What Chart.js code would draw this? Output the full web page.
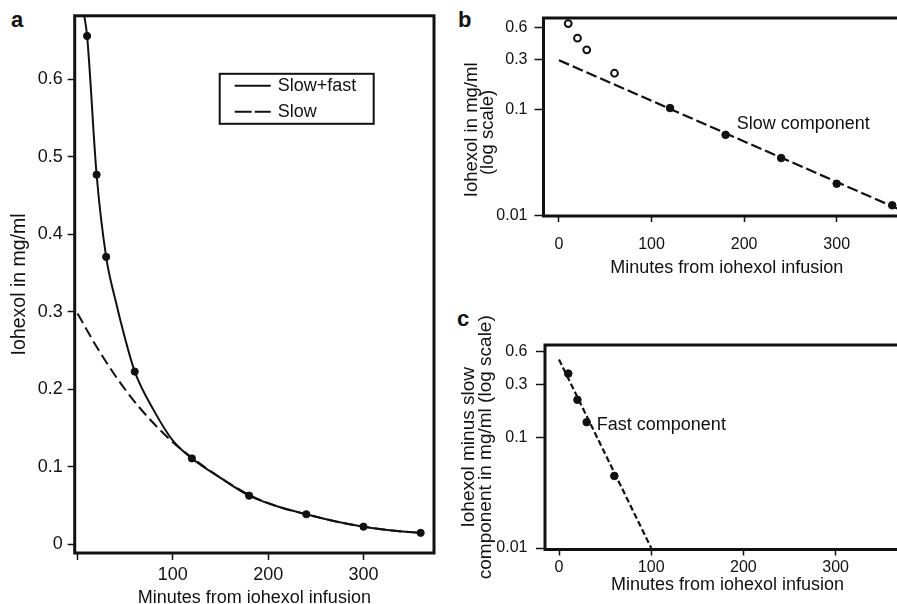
<!DOCTYPE html>
<html>
<head>
<meta charset="utf-8">
<script src="https://cdn.jsdelivr.net/npm/chart.js@4"></script>
<style>
  html, body { margin: 0; padding: 0; background: #fff; }
  body { width: 897px; height: 604px; overflow: hidden; position: relative; }
  canvas { position: absolute; }
  .tag { position: absolute; font: bold 22px "Liberation Sans", Arial, sans-serif; color: #111; line-height: 1; }
</style>
</head>
<body>
<div class="tag" style="left:11px;top:9px">a</div>
<div class="tag" style="left:458px;top:9px">b</div>
<div class="tag" style="left:457px;top:308px">c</div>
<canvas id="chartA" width="450" height="612" style="left:0;top:0"></canvas>
<canvas id="chartB" width="470" height="285" style="left:460px;top:0"></canvas>
<canvas id="chartC" width="470" height="304" style="left:460px;top:300px"></canvas>
<script>
const FONT = '"Liberation Sans", Arial, Helvetica, sans-serif';

// panel a: measured concentrations and the two fitted curves
const sampleMinutes = [10, 20, 30, 60, 120, 180, 240, 300, 360];
const iohexolA = [0.656, 0.477, 0.371, 0.223, 0.111, 0.063, 0.039, 0.023, 0.015];
const fitMinutes = [6, 10, 20, 30, 40, 50, 60, 80, 100, 120, 150, 180, 210, 240, 270, 300, 330, 360];
const slowFastFit = [0.69, 0.656, 0.477, 0.371, 0.314, 0.265, 0.223, 0.173, 0.134, 0.111, 0.086, 0.063, 0.049, 0.039, 0.030, 0.023, 0.018, 0.015];
const slowMinutes = [0, 20, 40, 60, 80, 100, 120, 150, 180, 210, 240, 270, 300, 330, 360];
const slowFit = [0.298, 0.255, 0.217, 0.184, 0.156, 0.132, 0.112, 0.086, 0.064, 0.049, 0.039, 0.030, 0.023, 0.018, 0.015];
const xTicksA = [0, 100, 200, 300];
const yTicksA = [0, 0.1, 0.2, 0.3, 0.4, 0.5, 0.6];

// panel b: log plot, early points open, late points filled
const earlyMinutes = [10, 20, 30, 60];
const earlyB = [0.655, 0.477, 0.37, 0.222];
const lateMinutes = [120, 180, 240, 300, 360];
const lateB = [0.104, 0.058, 0.035, 0.020, 0.0125];
const slowLineMinutes = [0, 366];
const slowLineB = [0.295, 0.0116];

// panel c: measured minus slow component
const fastMinutes = [10, 20, 30, 60];
const fastC = [0.38, 0.22, 0.138, 0.045];
const fastLineMinutes = [0, 100];
const fastLineC = [0.51, 0.01];

const xTicksBC = [0, 100, 200, 300];
const logTicks = [0.01, 0.1, 0.3, 0.6];

const pts = (xs, ys) => xs.map((x, i) => ({ x: x, y: ys[i] }));

Chart.defaults.font.family = FONT;
Chart.defaults.color = '#111';

// box around the plot area
const frame = {
  id: 'frame',
  beforeDatasetsDraw(chart) {
    const { ctx, chartArea: a } = chart;
    ctx.save();
    ctx.strokeStyle = '#111';
    ctx.lineWidth = 3;
    ctx.strokeRect(a.left, a.top, a.right - a.left, a.bottom - a.top);
    ctx.restore();
  }
};

// text label placed at data coordinates
const note = {
  id: 'note',
  afterDatasetsDraw(chart, args, opts) {
    if (!opts.text) return;
    const { ctx, scales } = chart;
    ctx.save();
    ctx.font = '18px ' + FONT;
    ctx.fillStyle = '#111';
    ctx.textBaseline = 'middle';
    ctx.textAlign = 'left';
    ctx.fillText(opts.text, scales.x.getPixelForValue(opts.x), scales.y.getPixelForValue(opts.y));
    ctx.restore();
  }
};

// boxed legend inside panel a
const boxLegend = {
  id: 'boxLegend',
  afterDraw(chart, args, opts) {
    if (!opts.display) return;
    const { ctx, chartArea: a } = chart;
    const left = a.left + opts.dx, top = a.top + opts.dy;
    const items = chart.data.datasets.filter(d => d.inLegend);
    ctx.save();
    ctx.strokeStyle = '#111';
    ctx.lineWidth = 2;
    ctx.strokeRect(left, top, opts.width, opts.height);
    ctx.font = '18px ' + FONT;
    ctx.fillStyle = '#111';
    ctx.textBaseline = 'middle';
    items.forEach((d, i) => {
      const yy = top + 12 + 26 * i;
      ctx.setLineDash(d.legendDash || []);
      ctx.lineWidth = 2;
      ctx.beginPath();
      ctx.moveTo(left + 15, yy);
      ctx.lineTo(left + 51, yy);
      ctx.stroke();
      ctx.setLineDash([]);
      ctx.fillText(d.label, left + 58, yy);
    });
    ctx.restore();
  }
};

function tickGrid(len) {
  return { display: true, drawOnChartArea: false, drawTicks: true, tickLength: len, tickWidth: 1.5, tickColor: '#111', color: '#111' };
}

// panel a
new Chart(document.getElementById('chartA'), {
  type: 'scatter',
  data: {
    datasets: [
      { label: 'Measured', data: pts(sampleMinutes, iohexolA), pointRadius: 3.6, backgroundColor: '#111', borderColor: '#111', showLine: false },
      { label: 'Slow+fast', data: pts(fitMinutes, slowFastFit), showLine: true, pointRadius: 0, borderColor: '#111', borderWidth: 2, cubicInterpolationMode: 'monotone', inLegend: true },
      { label: 'Slow', data: pts(slowMinutes, slowFit), showLine: true, pointRadius: 0, borderColor: '#111', borderWidth: 2, borderDash: [11, 5], cubicInterpolationMode: 'monotone', inLegend: true, legendDash: [17, 3] }
    ]
  },
  options: {
    responsive: false, animation: false, events: [],
    layout: { padding: { top: 15, right: 16, left: 0, bottom: 0 } },
    plugins: {
      legend: { display: false }, tooltip: { enabled: false },
      boxLegend: { display: true, dx: 145, dy: 58, width: 154, height: 50 }
    },
    scales: {
      x: {
        type: 'linear', min: -3, max: 374,
        afterBuildTicks: s => { s.ticks = xTicksA.map(v => ({ value: v })); },
        afterFit: s => { s.height = 59; },
        grid: tickGrid(7),
        border: { display: false },
        ticks: { font: { size: 18 }, padding: 4, maxRotation: 0, callback: v => v === 0 ? '' : String(v) },
        title: { display: true, text: 'Minutes from iohexol infusion', font: { size: 18 }, padding: { top: 0, bottom: 3 } }
      },
      y: {
        type: 'linear', min: -0.011, max: 0.682,
        afterBuildTicks: s => { s.ticks = yTicksA.map(v => ({ value: v })); },
        afterFit: s => { s.width = 74.7; },
        grid: tickGrid(7),
        border: { display: false },
        ticks: { font: { size: 18 }, padding: 5, callback: v => v === 0 ? '0' : v.toFixed(1) },
        title: { display: true, text: 'Iohexol in mg/ml', font: { size: 19.5 }, padding: { top: 8.3, bottom: 0 } }
      }
    }
  },
  plugins: [frame, boxLegend]
});

// panel b
new Chart(document.getElementById('chartB'), {
  type: 'scatter',
  data: {
    datasets: [
      { label: 'Early', data: pts(earlyMinutes, earlyB), pointRadius: 3.4, pointBorderWidth: 2, backgroundColor: '#fff', borderColor: '#111', showLine: false },
      { label: 'Late', data: pts(lateMinutes, lateB), pointRadius: 3.8, backgroundColor: '#111', borderColor: '#111', showLine: false },
      { label: 'Slow component', data: pts(slowLineMinutes, slowLineB), showLine: true, pointRadius: 0, borderColor: '#111', borderWidth: 2.2, borderDash: [11, 4] }
    ]
  },
  options: {
    responsive: false, animation: false, events: [],
    layout: { padding: { top: 18, right: 20, left: 0, bottom: 0 } },
    plugins: {
      legend: { display: false }, tooltip: { enabled: false },
      note: { text: 'Slow component', x: 192, y: 0.074 }
    },
    scales: {
      x: {
        type: 'linear', min: -16.7, max: 379.2,
        afterBuildTicks: s => { s.ticks = xTicksBC.map(v => ({ value: v })); },
        afterFit: s => { s.height = 69; },
        grid: tickGrid(6),
        border: { display: false },
        ticks: { font: { size: 16 }, padding: 13, maxRotation: 0, callback: v => String(v) },
        title: { display: true, text: 'Minutes from iohexol infusion', font: { size: 18 }, padding: { top: 0, bottom: 6 } }
      },
      y: {
        type: 'logarithmic', min: 0.0099, max: 0.74,
        afterBuildTicks: s => { s.ticks = logTicks.map(v => ({ value: v })); },
        afterFit: s => { s.width = 83.5; },
        grid: tickGrid(9),
        border: { display: false },
        ticks: { font: { size: 16 }, padding: 7, callback: v => String(v) },
        title: {
          display: true,
          text: ['Iohexol in mg/ml\u00a0\u00a0\u00a0\u00a0\u00a0', '(log scale)\u00a0\u00a0\u00a0\u00a0\u00a0\u00a0'],
          font: { size: 18.5, lineHeight: 0.88 }, padding: { top: 3.6, bottom: 0 }
        }
      }
    }
  },
  plugins: [frame, note]
});

// panel c
new Chart(document.getElementById('chartC'), {
  type: 'scatter',
  data: {
    datasets: [
      { label: 'Fast points', data: pts(fastMinutes, fastC), pointRadius: 3.8, backgroundColor: '#111', borderColor: '#111', showLine: false },
      { label: 'Fast component', data: pts(fastLineMinutes, fastLineC), showLine: true, pointRadius: 0, borderColor: '#111', borderWidth: 2.2, borderDash: [6, 3] }
    ]
  },
  options: {
    responsive: false, animation: false, events: [],
    layout: { padding: { top: 45, right: 20, left: 0, bottom: 0 } },
    plugins: {
      legend: { display: false }, tooltip: { enabled: false },
      note: { text: 'Fast component', x: 41, y: 0.129 }
    },
    scales: {
      x: {
        type: 'linear', min: -15.2, max: 380.7,
        afterBuildTicks: s => { s.ticks = xTicksBC.map(v => ({ value: v })); },
        afterFit: s => { s.height = 54.5; },
        grid: tickGrid(6),
        border: { display: false },
        ticks: { font: { size: 16 }, padding: 2, maxRotation: 0, callback: v => String(v) },
        title: { display: true, text: 'Minutes from iohexol infusion', font: { size: 18 }, padding: { top: 0, bottom: 8 } }
      },
      y: {
        type: 'logarithmic', min: 0.0097, max: 0.69,
        afterBuildTicks: s => { s.ticks = logTicks.map(v => ({ value: v })); },
        afterFit: s => { s.width = 85; },
        grid: tickGrid(9),
        border: { display: false },
        ticks: { font: { size: 16 }, padding: 8.5, callback: v => String(v) },
        title: {
          display: true,
          text: ['Iohexol minus slow', 'component in mg/ml (log scale)'],
          font: { size: 19, lineHeight: 0.9 }, padding: { top: 0, bottom: 0 }
        }
      }
    }
  },
  plugins: [frame, note]
});
</script>
</body>
</html>
